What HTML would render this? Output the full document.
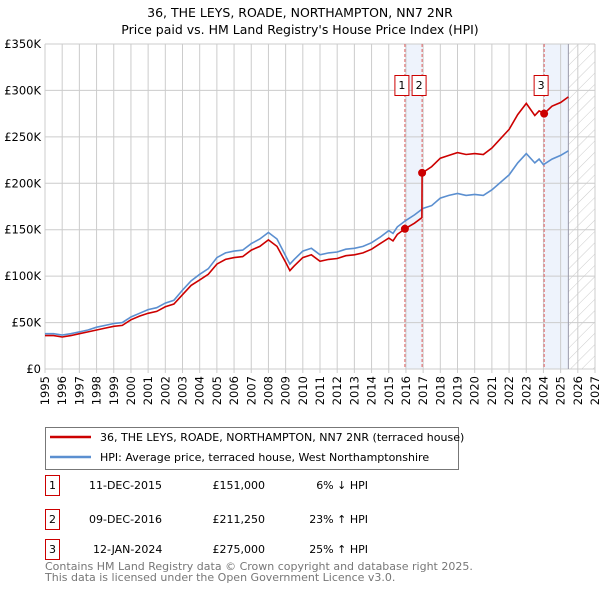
<!DOCTYPE html>
<html><head><meta charset="utf-8"><style>
body{margin:0;background:#fff;font-family:"Liberation Sans","DejaVu Sans",sans-serif;}
svg text{font-family:"DejaVu Sans","Liberation Sans",sans-serif;}
</style></head><body>
<svg width="600" height="590" viewBox="0 0 600 590">
<defs><pattern id="hatch" width="8" height="8" patternUnits="userSpaceOnUse" patternTransform="rotate(45)"><line x1="0" y1="0" x2="0" y2="8" stroke="#ccc" stroke-width="1"/></pattern></defs>
<text x="300" y="17" text-anchor="middle" font-size="12.5">36, THE LEYS, ROADE, NORTHAMPTON, NN7 2NR</text>
<text x="300" y="34" text-anchor="middle" font-size="12.5">Price paid vs. HM Land Registry's House Price Index (HPI)</text>
<g id="plot"></g>
<g>
<rect x="45.5" y="427.5" width="413" height="42" fill="#fff" stroke="#777"/>
<line x1="50" y1="437" x2="91" y2="437" stroke="#cc0000" stroke-width="2.5"/>
<text x="100" y="441" font-size="11">36, THE LEYS, ROADE, NORTHAMPTON, NN7 2NR (terraced house)</text>
<line x1="50" y1="457" x2="91" y2="457" stroke="#5b8fd0" stroke-width="2.5"/>
<text x="100" y="461" font-size="11">HPI: Average price, terraced house, West Northamptonshire</text>
</g>
<g font-size="11">
<rect x="45.5" y="475.5" width="14" height="20" fill="#fff" stroke="#cc0000"/><text x="52.5" y="489" text-anchor="middle">1</text>
<text x="89" y="489">11-DEC-2015</text><text x="265" y="489" text-anchor="end">£151,000</text><text x="368" y="489" text-anchor="end">6% ↓ HPI</text>
<rect x="45.5" y="509.5" width="14" height="20" fill="#fff" stroke="#cc0000"/><text x="52.5" y="523" text-anchor="middle">2</text>
<text x="89" y="523">09-DEC-2016</text><text x="265" y="523" text-anchor="end">£211,250</text><text x="368" y="523" text-anchor="end">23% ↑ HPI</text>
<rect x="45.5" y="539.5" width="14" height="20" fill="#fff" stroke="#cc0000"/><text x="52.5" y="553" text-anchor="middle">3</text>
<text x="93" y="553">12-JAN-2024</text><text x="265" y="553" text-anchor="end">£275,000</text><text x="368" y="553" text-anchor="end">25% ↑ HPI</text>
</g>
<text x="45" y="570" font-size="11" fill="#777">Contains HM Land Registry data © Crown copyright and database right 2025.</text>
<text x="45" y="581" font-size="11" fill="#777">This data is licensed under the Open Government Licence v3.0.</text>
</svg>
<script>
const hpiYears=[1995,1995.5,1996,1996.5,1997,1997.5,1998,1998.5,1999,1999.5,2000,2000.5,2001,2001.5,2002,2002.5,2003,2003.5,2004,2004.5,2005,2005.5,2006,2006.5,2007,2007.5,2008,2008.5,2009,2009.25,2009.5,2010,2010.5,2011,2011.5,2012,2012.5,2013,2013.5,2014,2014.5,2015,2015.25,2015.5,2016,2016.5,2017,2017.5,2018,2018.5,2019,2019.5,2020,2020.5,2021,2021.5,2022,2022.5,2023,2023.5,2023.75,2024,2024.5,2025,2025.45];
const hpiValues=[38,38,36.5,38,40,42,45,47,49,50,56,60,64,66,71,74,85,95,102,108,120,125,127,128,135,140,147,140,122,113,118,127,130,123,125,126,129,130,132,136,142,149,146,153,160,166,173,176,184,187,189,187,188,187,193,201,209,222,232,222,226,220,226,230,235];
const propYears=[1995,1995.5,1996,1996.5,1997,1997.5,1998,1998.5,1999,1999.5,2000,2000.5,2001,2001.5,2002,2002.5,2003,2003.5,2004,2004.5,2005,2005.5,2006,2006.5,2007,2007.5,2008,2008.5,2009,2009.25,2009.5,2010,2010.5,2011,2011.5,2012,2012.5,2013,2013.5,2014,2014.5,2015,2015.25,2015.5,2015.94,2016.5,2016.93,2016.94,2017.5,2018,2018.5,2019,2019.5,2020,2020.5,2021,2021.5,2022,2022.5,2023,2023.5,2023.75,2024.04,2024.5,2025,2025.45];
const propValues=[36,36,34.5,36,38,40,42,44,46,47,53,57,60,62,67,70,80,90,96,102,113,118,120,121,128,132,139,132,115,106,111,120,123,116,118,119,122,123,125,129,135,141,138,145,151,157,163,211,218,227,230,233,231,232,231,238,248,258,274,286,273,278,275,283,287,293];
const saleYears=[2015.94,2016.94,2024.04];
const saleValues=[151,211.25,275];
const saleLabels=['1','2','3'];
const yTicks=[0,50,100,150,200,250,300,350];
const yTickLabels=['£0','£50K','£100K','£150K','£200K','£250K','£300K','£350K'];
const xTicks=[1995,1996,1997,1998,1999,2000,2001,2002,2003,2004,2005,2006,2007,2008,2009,2010,2011,2012,2013,2014,2015,2016,2017,2018,2019,2020,2021,2022,2023,2024,2025,2026,2027];
const X0=45,X1=595,Y0=369,Y1=44,dataEnd=2025.45;
const xs=y=>X0+(y-1995)/(2027-1995)*(X1-X0);
const ys=v=>Y0-v/350*(Y0-Y1);
const NS='http://www.w3.org/2000/svg';
const g=document.getElementById('plot');
function mk(t,a,p){const e=document.createElementNS(NS,t);for(const k in a)e.setAttribute(k,a[k]);(p||g).appendChild(e);return e;}
let r;
r=mk('rect',{x:xs(saleYears[0]),y:Y1,width:xs(saleYears[1])-xs(saleYears[0]),height:Y0-Y1,fill:'#eef3fc'});


r=mk('rect',{x:xs(saleYears[2]),y:Y1,width:xs(dataEnd)-xs(saleYears[2]),height:Y0-Y1,fill:'#eef3fc'});


r=mk('rect',{x:xs(dataEnd),y:Y1,width:X1-xs(dataEnd),height:Y0-Y1,fill:'url(#hatch)'});


xTicks.forEach(t=>{const l=mk('line',{x1:xs(t),x2:xs(t),y1:Y1,y2:Y0+4,stroke:'#ccc'});


const tx=mk('text',{x:0,y:0,'font-size':11.5,'text-anchor':'end',transform:`translate(${xs(t)+4},${Y0+7}) rotate(-90)`});tx.textContent=t;

});
yTicks.forEach((t,i)=>{const l=mk('line',{x1:X0,x2:X1,y1:ys(t),y2:ys(t),stroke:'#ccc'});


const tx=mk('text',{x:X0-4,y:ys(t)+4,'font-size':11.5,'text-anchor':'end'});tx.textContent=yTickLabels[i];

});
mk('line',{x1:xs(dataEnd),x2:xs(dataEnd),y1:Y1,y2:Y0,stroke:'#99a'});
saleYears.forEach(s=>{const l=mk('line',{x1:xs(s),x2:xs(s),y1:Y1,y2:Y0,stroke:'#e06060','stroke-dasharray':'3,2'});

});
const pts=(a,b)=>a.map((y,i)=>xs(y).toFixed(1)+','+ys(b[i]).toFixed(1)).join(' ');
let p=mk('polyline',{points:pts(hpiYears,hpiValues),fill:'none',stroke:'#5b8fd0','stroke-width':1.6});


p=mk('polyline',{points:pts(propYears,propValues),fill:'none',stroke:'#cc0000','stroke-width':1.6});


saleYears.forEach((s,i)=>{const c=mk('circle',{cx:xs(s),cy:ys(saleValues[i]),r:4,fill:'#cc0000'});


const bx=xs(s)-10;
const b=mk('rect',{x:bx,y:75.5,width:14,height:20,fill:'#fff',stroke:'#cc0000'});


const t=mk('text',{x:bx+7,y:89,'font-size':11,'text-anchor':'middle'});t.textContent=saleLabels[i];

});
</script>
</body></html>
